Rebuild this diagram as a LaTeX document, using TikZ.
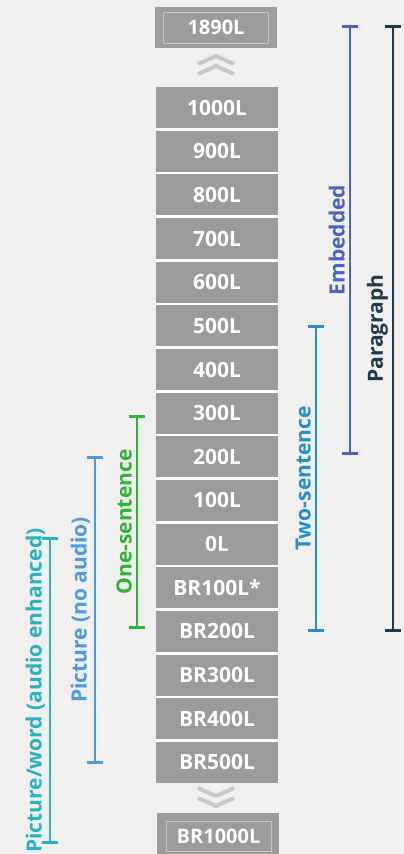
\documentclass[tikz,border=0pt]{standalone}
\usepackage{fontspec}
\setmainfont{Open Sans}
\usetikzlibrary{arrows.meta,positioning,backgrounds}
\definecolor{pagebg}{HTML}{F1F0EE}
\definecolor{boxgray}{HTML}{9B9B9B}
\definecolor{framegray}{HTML}{C4C4C4}
\definecolor{chevgray}{HTML}{C8C8C8}
\definecolor{paracol}{HTML}{1E3A4F}
\definecolor{embedcol}{HTML}{4A62C2}
\definecolor{twocol}{HTML}{1F8FD2}
\definecolor{onecol}{HTML}{2DB534}
\definecolor{piccol}{HTML}{4A9BE6}
\definecolor{pwcol}{HTML}{22B4C4}

\begin{document}
\begin{tikzpicture}[x=1pt,y=-1pt,node distance=2.25pt,
  level/.style={fill=boxgray,text=white,minimum width=122pt,minimum height=41pt,inner sep=0pt,font=\bfseries\fontsize{21}{25}\selectfont},
  capframe/.style={draw=framegray,line width=0.8pt,text=white,minimum width=105pt,minimum height=31pt,inner sep=0pt,font=\bfseries\fontsize{20}{24}\selectfont},
  chev/.style={draw=chevgray,line width=4pt},
  bracket/.style={line width=2.2pt,{Bar[width=16pt,line width=3pt]}-{Bar[width=16pt,line width=3pt]}},
  lbl/.style={midway,rotate=90,anchor=south,inner sep=4pt,font=\bfseries\fontsize{21}{25}\selectfont}]
		\useasboundingbox (0,0) rectangle (404,854);

		% top and bottom ends
		\node[level] (L1890) at (216,27.5) {};
		\node[capframe] (L1890txt) at (L1890) {1890L};
		\node[level,minimum height=44pt] (BR1000) at (217.5,835) {};
		\node[capframe,minimum height=30pt] (BR1000txt) at (218.5,836) {BR1000L};

		% the scale
		\node[level] (L1000) at (217,107.6) {1000L};
		\node[level] (L900) [below=of L1000] {900L};
		\node[level] (L800) [below=of L900] {800L};
		\node[level] (L700) [below=of L800] {700L};
		\node[level] (L600) [below=of L700] {600L};
		\node[level] (L500) [below=of L600] {500L};
		\node[level] (L400) [below=of L500] {400L};
		\node[level] (L300) [below=of L400] {300L};
		\node[level] (L200) [below=of L300] {200L};
		\node[level] (L100) [below=of L200] {100L};
		\node[level] (L0) [below=of L100] {0L};
		\node[level] (BR100) [below=of L0] {BR100L*};
		\node[level] (BR200) [below=of BR100] {BR200L};
		\node[level] (BR300) [below=of BR200] {BR300L};
		\node[level] (BR400) [below=of BR300] {BR400L};
		\node[level] (BR500) [below=of BR400] {BR500L};

		% chevrons
		\draw[chev] (198,64) -- (216,56) -- (234,64);
		\draw[chev] (198,74) -- (216,66) -- (234,74);
		\draw[chev] (198,788) -- (216,796) -- (234,788);
		\draw[chev] (198,798) -- (216,806) -- (234,798);

		% bracket ends
		\coordinate (paraTop) at (393,25);
		\coordinate (paraBot) at (393,632);
		\coordinate (embTop) at (350,25);
		\coordinate (embBot) at (350,455);
		\coordinate (twoTop) at (316,325);
		\coordinate (twoBot) at (316,632);
		\coordinate (oneTop) at (137,415);
		\coordinate (oneBot) at (137,629);
		\coordinate (picTop) at (95,456);
		\coordinate (picBot) at (95,764);
		\coordinate (pwTop) at (50,537);
		\coordinate (pwBot) at (50,844);

		\draw[bracket,paracol] (paraTop) -- node[lbl] {Paragraph} (paraBot);
		\draw[bracket,embedcol] (embTop) -- node[lbl] {Embedded} (embBot);
		\draw[bracket,twocol] (twoTop) -- node[lbl] {Two-sentence} (twoBot);
		\draw[bracket,onecol] (oneTop) -- node[lbl] {One-sentence} (oneBot);
		\draw[bracket,piccol] (picTop) -- node[lbl] {Picture (no audio)} (picBot);
		\draw[bracket,pwcol] (pwTop) -- node[lbl] {Picture/word (audio enhanced)} (pwBot);

		\begin{scope}[on background layer]
			\fill[pagebg] (0,0) rectangle (404,854);
			\fill[white] (L1000.north west) rectangle (BR500.south east);
		\end{scope}
	\end{tikzpicture}
\end{document}
